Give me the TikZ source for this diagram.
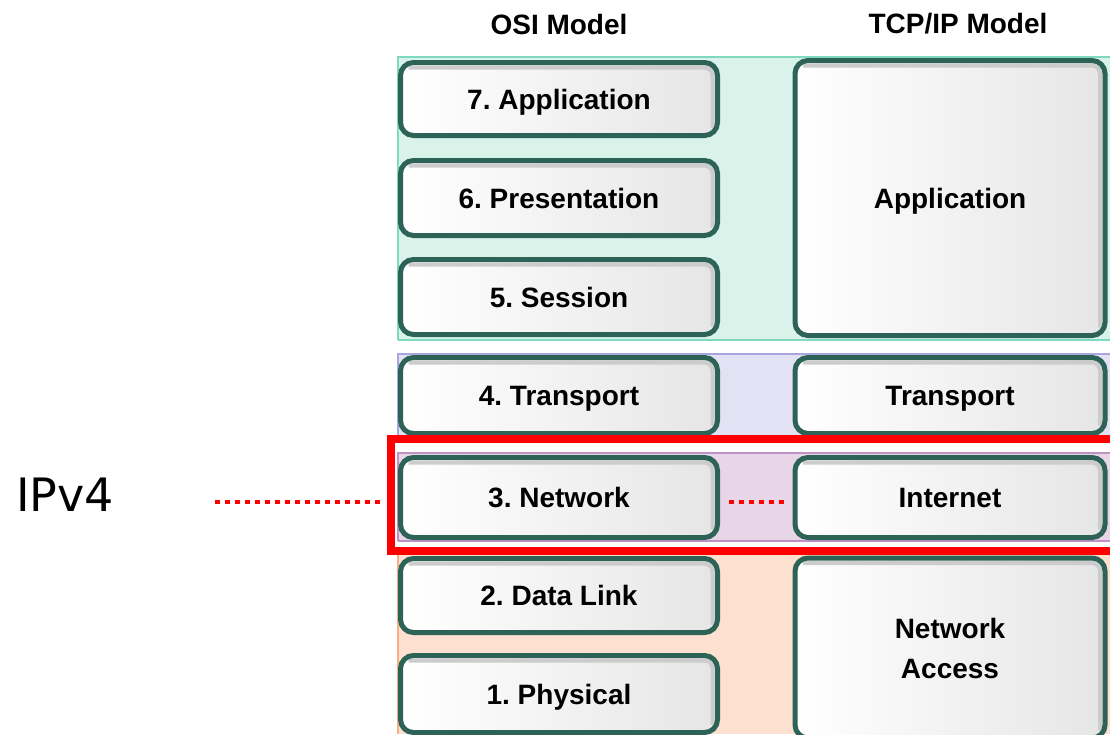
\documentclass[tikz,border=0pt]{standalone}
\usepackage{fontspec}
\setmainfont{Liberation Sans}
\newfontfamily\dejavu{DejaVu Sans}
\definecolor{boxline}{HTML}{2D6356}
\definecolor{mint}{HTML}{D9F3EB}
\definecolor{mintline}{HTML}{7FD9BF}
\definecolor{lav}{HTML}{E2E2F4}
\definecolor{lavline}{HTML}{A9A6DE}
\definecolor{orch}{HTML}{E8D5E8}
\definecolor{orchline}{HTML}{BE92C2}
\definecolor{peach}{HTML}{FDE0D0}
\definecolor{peachline}{HTML}{F5B08A}
\frenchspacing
\begin{document}
\begin{tikzpicture}[x=1pt,y=-1pt,
  layer/.style={draw=boxline, line width=5pt, rounded corners=13pt,
    left color=white, right color=black!10,
    font=\fontsize{28}{40}\selectfont\bfseries, align=center, inner sep=0pt,
    path picture={\draw[black!20, line width=4pt, rounded corners=8pt]
      ([xshift=8pt,yshift=-5pt]path picture bounding box.north west) --
      ([xshift=-5pt,yshift=-5pt]path picture bounding box.north east) --
      ([xshift=-5pt,yshift=8pt]path picture bounding box.south east);}},
  oneline/.style={text height=20pt, text depth=0pt},
  osi/.style={layer, oneline, minimum width=317pt, minimum height=75pt},
  tcp/.style={layer, minimum width=310pt, minimum height=76pt},
  head/.style={font=\fontsize{28}{34}\selectfont\bfseries},
  dots/.style={draw=red, line width=4.5pt, dash pattern=on 4.5pt off 5.5pt},
  band/.style={line width=2.5pt}
]
\clip (0,0) rectangle (1110,734);
\fill[white] (0,0) rectangle (1110,734);

% coloured bands
\fill[mint] (397,57) rectangle (1112,340);
\draw[mintline, band] (398,340) -- (398,57) -- (1112,57);
\draw[mintline, line width=1.5pt] (398,340) -- (1112,340);
\fill[lav] (397,353) rectangle (1112,437);
\draw[lavline, band] (398,437) -- (398,354) -- (1112,354);
\fill[orch] (397,452) rectangle (1112,541);
\draw[orchline, line width=1.5pt] (398,541) -- (398,453) -- (1112,453);
\draw[orchline, line width=1.5pt] (398,541) -- (1112,541);
\fill[peach] (397,553) rectangle (1112,734);
\draw[peachline, line width=1.5pt] (398,734) -- (398,553);

% headings
\node[head] (hosi) at (559,24) {OSI Model};
\node[head] (htcp) at (958,24) {TCP/IP Model};

% OSI layers
\node[osi, minimum height=73pt] (osi7) at (559,99) {7. Application};
\node[osi] (osi6) at (559,198) {6. Presentation};
\node[osi] (osi5) at (559,297) {5. Session};
\node[osi, minimum height=76pt] (osi4) at (559,395.5) {4. Transport};
\node[osi, minimum height=80pt] (osi3) at (559,497.5) {3. Network};
\node[osi, minimum height=74pt] (osi2) at (559,595.5) {2. Data Link};
\node[osi, minimum height=77pt] (osi1) at (559,694) {1. Physical};

% TCP/IP layers
\node[tcp, oneline, minimum height=275pt] (tapp) at (950,198) {Application};
\node[tcp, oneline] (ttrans) at (950,395.5) {Transport};
\node[tcp, oneline, minimum height=80pt] (inet) at (950,497.5) {Internet};
\node[tcp, minimum height=180pt] (tna) at (950,648) {Network\\Access};

% highlight
\node[draw=red, line width=8pt, inner sep=0pt, minimum width=740pt,
  minimum height=112pt] (hl) at (761,495) {};

% IPv4 label and dotted connectors
\node[font=\dejavu\fontsize{46}{50}\selectfont] (ipv4) at (65,495) {IPv4};
\coordinate (d1) at (215,502);
\draw[dots, shorten >=4pt] (d1) -- (d1 -| hl.west);
\draw[dots, shorten <=9pt, shorten >=9pt]
  ([yshift=-4.5pt]osi3.east) -- ([yshift=-4.5pt]inet.west);
\end{tikzpicture}
\end{document}
